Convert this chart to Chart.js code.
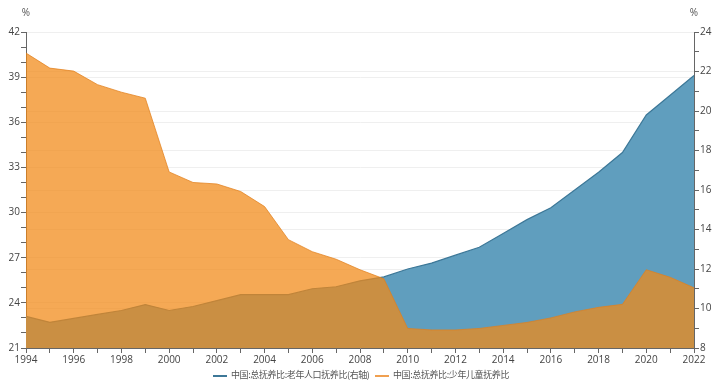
<!DOCTYPE html>
<html>
<head>
<meta charset="utf-8">
<script src="https://cdn.jsdelivr.net/npm/chart.js@4/dist/chart.umd.min.js"></script>
<style>
  html, body { margin: 0; padding: 0; background: #fff; }
  #wrap { position: relative; width: 720px; height: 384px; }
  #legend {
    position: absolute; left: 0; top: 368px; width: 720px; height: 14px;
    font-family: "Noto Sans CJK SC", sans-serif; font-size: 9px; color: #555;
  }
  .item { position: absolute; top: 0; height: 14px; line-height: 14px; white-space: nowrap; letter-spacing: -0.4px; }
  .item i { display: inline-block; width: 14px; height: 2px; vertical-align: middle; margin-right: 4px; }
</style>
</head>
<body>
<div id="wrap">
  <canvas id="chart" width="720" height="384"></canvas>
  <div id="legend"></div>
</div>
<script>
// 数据
const years = [
  "1994", "1995", "1996", "1997", "1998", "1999", "2000", "2001", "2002",
  "2003", "2004", "2005", "2006", "2007", "2008", "2009", "2010", "2011",
  "2012", "2013", "2014", "2015", "2016", "2017", "2018", "2019", "2020",
  "2021", "2022",
];
// 老年人口抚养比 (右轴)
const elderly = [
  9.6, 9.3, 9.5, 9.7, 9.9, 10.2, 9.9, 10.1, 10.4, 10.7, 10.7, 10.7, 11.0,
  11.1, 11.4, 11.6, 12.0, 12.3, 12.7, 13.1, 13.8, 14.5, 15.1, 16.0, 16.9,
  17.9, 19.8, 20.8, 21.8,
];
// 少年儿童抚养比 (左轴)
const young = [
  40.6, 39.6, 39.4, 38.5, 38.0, 37.6, 32.7, 32.0, 31.9, 31.4, 30.4, 28.2,
  27.4, 26.9, 26.2, 25.6, 22.3, 22.2, 22.2, 22.3, 22.5, 22.7, 23.0, 23.4,
  23.7, 23.9, 26.2, 25.7, 25.0,
];
const labelElderly = "中国:总抚养比:老年人口抚养比(右轴)";
const labelYoung = "中国:总抚养比:少年儿童抚养比";

const tickFont = { family: "'Open Sans', sans-serif", size: 10 };
const axisColor = "#666";

// "%" 单位
const unitPlugin = {
  id: "unit",
  afterDraw(chart) {
    const ctx = chart.ctx;
    ctx.save();
    ctx.font = "10px 'Open Sans', sans-serif";
    ctx.fillStyle = "#555";
    ctx.textAlign = "center";
    ctx.textBaseline = "middle";
    ctx.fillText("%", chart.scales.y.right, 13);
    ctx.fillText("%", chart.scales.y1.left, 13);
    ctx.restore();
  },
};

const ctx = document.querySelector("#chart").getContext("2d");

const chart = new Chart(ctx, {
  type: "line",
  data: {
    labels: years,
    datasets: [
      {
        label: labelElderly,
        data: elderly,
        yAxisID: "y1",
        order: 2,
        borderColor: "#3d7898",
        borderWidth: 1.2,
        backgroundColor: "#609ebe",
        fill: "start",
        pointRadius: 0,
        tension: 0,
      },
      {
        label: labelYoung,
        data: young,
        yAxisID: "y",
        order: 1,
        borderColor: "rgba(226,128,30,0.75)",
        borderWidth: 1,
        backgroundColor: "rgba(241,137,22,0.73)",
        fill: "start",
        pointRadius: 0,
        tension: 0,
      },
    ],
  },
  options: {
    responsive: false,
    animation: false,
    layout: { padding: { top: 32, left: 0, right: 0, bottom: 0 } },
    plugins: { legend: { display: false }, tooltip: { enabled: false } },
    scales: {
      x: {
        offset: false,
        afterFit(scale) { scale.height = 36; },
        border: { color: axisColor },
        grid: { drawOnChartArea: false, tickLength: 5, color: axisColor },
        ticks: {
          autoSkip: false,
          maxRotation: 0,
          padding: 1,
          color: "#444",
          font: tickFont,
          callback(val, i) { return i % 2 === 0 ? this.getLabelForValue(val) : ""; },
        },
      },
      y: {
        position: "left",
        min: 21,
        max: 42,
        afterFit(scale) { scale.width = 26; },
        border: { color: axisColor },
        grid: {
          tickLength: 5,
          tickColor: axisColor,
          color: (c) => (c.tick && c.tick.value % 3 === 0 ? "#efefef" : "rgba(0,0,0,0)"),
        },
        ticks: {
          stepSize: 1,
          padding: 1,
          color: "#444",
          font: tickFont,
          callback: (v) => (v % 3 === 0 ? v : ""),
        },
      },
      y1: {
        position: "right",
        min: 8,
        max: 24,
        afterFit(scale) { scale.width = 26; },
        border: { color: axisColor },
        grid: {
          tickLength: 5,
          tickColor: axisColor,
          color: (c) => (c.tick && c.tick.value % 2 === 0 ? "#efefef" : "rgba(0,0,0,0)"),
        },
        ticks: {
          stepSize: 1,
          padding: 1,
          color: "#444",
          font: tickFont,
          callback: (v) => (v % 2 === 0 ? v : ""),
        },
      },
    },
  },
  plugins: [unitPlugin],
});

// 图例
const legendBox = document.querySelector("#legend");
const legendPos = [213, 375];
[0, 1].forEach((i) => {
  const ds = chart.data.datasets[i];
  const item = document.createElement("div");
  item.className = "item";
  item.style.left = legendPos[i] + "px";
  const line = document.createElement("i");
  line.style.background = i === 0 ? "#3d7898" : "#f0a050";
  item.appendChild(line);
  item.appendChild(document.createTextNode(ds.label));
  legendBox.appendChild(item);
});
</script>
</body>
</html>
